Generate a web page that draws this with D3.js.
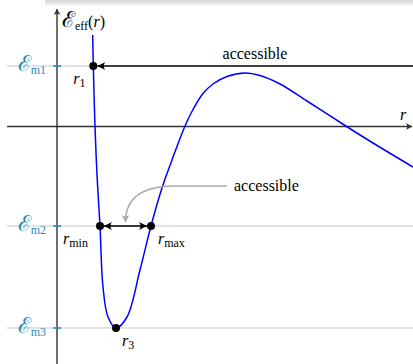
<!DOCTYPE html>
<html lang="en">
<head>
  <meta charset="UTF-8">
  <title>Effective potential</title>
  <script src="https://d3js.org/d3.v7.min.js"></script>
  <style>
    html, body { margin: 0; padding: 0; background: #fff; }
    svg { display: block; }
    text { font-family: "Liberation Serif", "DejaVu Serif", serif; }
  </style>
</head>
<body>
<script>
  const width = 413;
  const height = 364;

  // curve (r, E_eff)
  const curveR = [1.003, 1.020, 1.067, 1.124, 1.208, 1.292, 1.433, 1.657, 1.966, 2.331, 2.640,
    2.949, 3.230, 3.596, 3.820, 4.101, 4.382, 4.775, 5.281, 5.702, 6.264, 7.022, 8.090, 8.876, 10.0];
  const curveE = [1.83, 1.21, 0.01, -0.97, -1.99, -3.21, -3.81, -4.03, -3.81, -2.87, -1.99,
    -1.23, -0.67, 0.01, 0.34, 0.66, 0.85, 1.00, 1.07, 1.02, 0.85, 0.51, 0.02, -0.33, -0.81];

  // energy levels
  const levelNames = ["m1", "m2", "m3"];
  const levelValues = [1.21, -1.99, -4.03];

  // marked points
  const pointNames = ["1", "min", "max", "3"];
  const pointR = [1.02, 1.208, 2.64, 1.657];
  const pointE = [1.21, -1.99, -1.99, -4.03];

  const x = d3.scaleLinear().domain([0, 10]).range([57, 413]);
  const y = d3.scaleLinear().domain([-4, 2]).range([326.5, 26.5]);

  const teal = "#2b8cb3";
  const axisCol = "#333";

  const svg = d3.select("body").append("svg")
    .attr("width", width)
    .attr("height", height);

  const defs = svg.append("defs");
  const grad = defs.append("linearGradient").attr("id", "shade")
    .attr("x1", 0).attr("y1", 0).attr("x2", 0).attr("y2", 1);
  grad.append("stop").attr("offset", 0).attr("stop-color", "#d4d4d4");
  grad.append("stop").attr("offset", 1).attr("stop-color", "#fff");

  function arrowMarker(id, color, w, h) {
    defs.append("marker")
      .attr("id", id)
      .attr("viewBox", `${-w} ${-h} ${w + 1} ${2 * h}`)
      .attr("refX", 0).attr("refY", 0)
      .attr("markerUnits", "userSpaceOnUse")
      .attr("markerWidth", w + 1).attr("markerHeight", 2 * h)
      .attr("orient", "auto-start-reverse")
      .append("path")
      .attr("d", `M0,0 L${-w},${-h} Q${-w * 0.6},0 ${-w},${h} Z`)
      .attr("fill", color);
  }
  arrowMarker("blk", "#000", 8, 4);
  arrowMarker("ax", axisCol, 6, 3.5);
  arrowMarker("gry", "#aaa", 7, 4);

  // top shadow strip
  svg.append("rect").attr("x", 45).attr("y", 0).attr("width", width - 45).attr("height", 7)
    .attr("fill", "url(#shade)");

  // gray level lines
  svg.selectAll("line.level").data(levelValues).join("line")
    .attr("class", "level")
    .attr("x1", 7)
    .attr("x2", (d, i) => i === 0 ? x(pointR[0]) : width)
    .attr("y1", d => y(d)).attr("y2", d => y(d))
    .attr("stroke", "#c8c8c8").attr("stroke-width", 1.2);

  // axes
  svg.append("line")
    .attr("x1", 7).attr("x2", width - 1)
    .attr("y1", y(0)).attr("y2", y(0))
    .attr("stroke", axisCol).attr("stroke-width", 1.4)
    .attr("marker-end", "url(#ax)");
  svg.append("line")
    .attr("x1", x(0)).attr("x2", x(0))
    .attr("y1", height).attr("y2", 9)
    .attr("stroke", axisCol).attr("stroke-width", 1.4)
    .attr("marker-end", "url(#ax)");

  // level ticks and labels
  svg.selectAll("line.tick").data(levelValues).join("line")
    .attr("class", "tick")
    .attr("x1", x(0) - 4).attr("x2", x(0) + 4)
    .attr("y1", d => y(d)).attr("y2", d => y(d))
    .attr("stroke", teal).attr("stroke-width", 1.6);

  const lab = svg.selectAll("text.lev").data(levelNames).join("text")
    .attr("class", "lev")
    .attr("x", 46)
    .attr("y", (d, i) => y(levelValues[i]) + 5)
    .attr("text-anchor", "end")
    .attr("fill", teal);
  lab.append("tspan").attr("font-size", 22).text("ℰ");
  lab.append("tspan").attr("font-size", 12).attr("dy", 3).text(d => d);

  // axis labels
  const ylab = svg.append("text").attr("x", x(0) + 5).attr("y", 27);
  ylab.append("tspan").attr("font-size", 22).text("ℰ");
  ylab.append("tspan").attr("font-size", 12).attr("dy", 3).text("eff");
  ylab.append("tspan").attr("font-size", 16).attr("dy", -3).text("(");
  ylab.append("tspan").attr("font-size", 16).attr("font-style", "italic").text("r");
  ylab.append("tspan").attr("font-size", 16).text(")");

  svg.append("text").attr("x", 400).attr("y", 120)
    .attr("font-size", 16).attr("font-style", "italic").text("r");

  // potential curve
  const line = d3.line()
    .x((d, i) => x(curveR[i]))
    .y(d => y(d))
    .curve(d3.curveCatmullRom.alpha(0.5));
  svg.append("path")
    .attr("d", line(curveE))
    .attr("fill", "none")
    .attr("stroke", "#0000ff")
    .attr("stroke-width", 1.5);

  // accessible arrows
  const dotR = 4;
  svg.append("line")
    .attr("x1", x(pointR[0]) + dotR).attr("x2", width)
    .attr("y1", y(pointE[0])).attr("y2", y(pointE[0]))
    .attr("stroke", "#000").attr("stroke-width", 1.3)
    .attr("marker-start", "url(#blk)");
  svg.append("line")
    .attr("x1", x(pointR[1]) + dotR).attr("x2", x(pointR[2]) - dotR)
    .attr("y1", y(pointE[1])).attr("y2", y(pointE[2]))
    .attr("stroke", "#000").attr("stroke-width", 1.3)
    .attr("marker-start", "url(#blk)")
    .attr("marker-end", "url(#blk)");

  svg.append("text").attr("x", 255).attr("y", 59)
    .attr("text-anchor", "middle").attr("font-size", 16).text("accessible");
  svg.append("text").attr("x", 234).attr("y", 191)
    .attr("font-size", 16).text("accessible");

  // gray pointer from the middle label
  const mid = (x(pointR[1]) + x(pointR[2])) / 2;
  svg.append("path")
    .attr("d", `M227,186 L175,186 C140,186 ${mid},200 ${mid},${y(pointE[1]) - 4}`)
    .attr("fill", "none").attr("stroke", "#aaa").attr("stroke-width", 1.5)
    .attr("marker-end", "url(#gry)");

  // dots
  svg.selectAll("circle.pt").data(pointNames).join("circle")
    .attr("class", "pt")
    .attr("cx", (d, i) => x(pointR[i]))
    .attr("cy", (d, i) => y(pointE[i]))
    .attr("r", dotR)
    .attr("fill", "#000");

  // point labels
  const labPos = [[-20, 18], [-37, 18], [7, 18], [6, 18]];
  const plab = svg.selectAll("text.pl").data(pointNames).join("text")
    .attr("class", "pl")
    .attr("x", (d, i) => x(pointR[i]) + labPos[i][0])
    .attr("y", (d, i) => y(pointE[i]) + labPos[i][1]);
  plab.append("tspan").attr("font-size", 16).attr("font-style", "italic").text("r");
  plab.append("tspan").attr("font-size", 12).attr("dy", 3).text(d => d);
</script>
</body>
</html>
